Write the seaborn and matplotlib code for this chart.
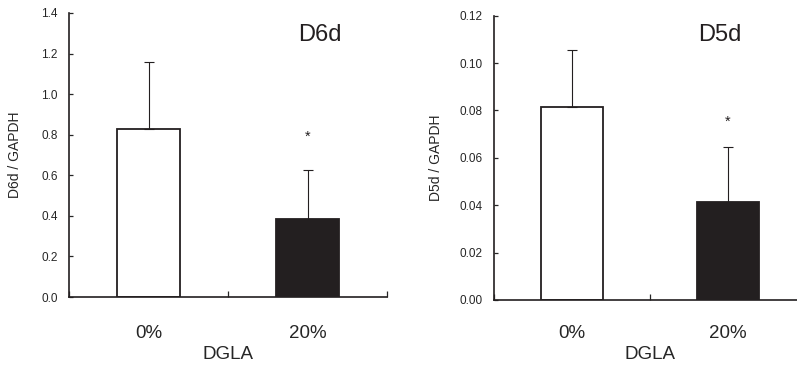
import numpy as np
import pandas as pd
import matplotlib
matplotlib.use("Agg")
import matplotlib.pyplot as plt
import seaborn as sns
from matplotlib.ticker import FormatStrFormatter

# data
groups = ["0%", "20%"]
d6d_mean = [0.83, 0.385]
d6d_sd = [0.33, 0.242]
d5d_mean = [0.0816, 0.0415]
d5d_sd = [0.0238, 0.023]

sns.set_style("ticks")
plt.rcParams["font.family"] = ["Liberation Sans", "DejaVu Sans"]

bar_colors = ["white", "#231f20"]

fig = plt.figure(figsize=(7.97, 3.67), dpi=100)
ax1 = fig.add_axes([0.0866, 0.1907, 0.399, 0.774])
ax2 = fig.add_axes([0.6198, 0.1826, 0.3915, 0.7747])


def draw_panel(ax, means, sds, title, ylabel, ymax, ystep, fmt, title_pos,
               star_y, tick_pad, xpad):
    df = pd.DataFrame({"DGLA": groups, "value": means})
    sns.barplot(data=df, x="DGLA", y="value", hue="DGLA", palette=bar_colors,
                edgecolor="#231f20", linewidth=1.3, width=0.4, legend=False,
                saturation=1, ax=ax)
    # upper error bars only
    ax.errorbar(x=[0, 1], y=means, yerr=[[0, 0], sds], fmt="none",
                ecolor="#231f20", elinewidth=0.8, capsize=3.5, capthick=0.8)
    ax.text(1, star_y, "*", ha="center", va="baseline", fontsize=10.5, color="#231f20")
    ax.text(title_pos[0], title_pos[1], title, transform=ax.transAxes,
            ha="center", va="center", fontsize=17, color="#231f20")

    ax.set_xlim(-0.5, 1.5)
    ax.set_ylim(0, ymax)
    ax.set_yticks(np.arange(0, ymax + ystep / 2, ystep))
    ax.yaxis.set_major_formatter(FormatStrFormatter(fmt))
    ax.set_xticks([0, 1])
    ax.set_xticklabels(groups)
    ax.set_xticks([-0.5, 0.5, 1.5], minor=True)
    ax.tick_params(axis="x", which="major", length=0, pad=tick_pad, labelsize=13.5)
    ax.tick_params(axis="x", which="minor", direction="in", length=4, width=0.9)
    ax.tick_params(axis="y", direction="in", length=3, width=0.9, pad=8,
                   labelsize=8.5)
    ax.set_xlabel("DGLA", fontsize=13.5, labelpad=xpad)
    ax.set_ylabel(ylabel, fontsize=10)

    sns.despine(ax=ax)
    for side in ["left", "bottom"]:
        ax.spines[side].set_linewidth(1.2)
        ax.spines[side].set_color("#231f20")


draw_panel(ax1, d6d_mean, d6d_sd, "D6d", "D6d / GAPDH", 1.4, 0.2, "%.1f",
           (0.79, 0.922), 0.769, 20, 3)
draw_panel(ax2, d5d_mean, d5d_sd, "D5d", "D5d / GAPDH", 0.12, 0.02, "%.2f",
           (0.724, 0.932), 0.0734, 18, 3)

ax1.yaxis.set_label_coords(-0.148, 0.5)
ax2.yaxis.set_label_coords(-0.164, 0.5)

fig.savefig("out.png", dpi=100)
